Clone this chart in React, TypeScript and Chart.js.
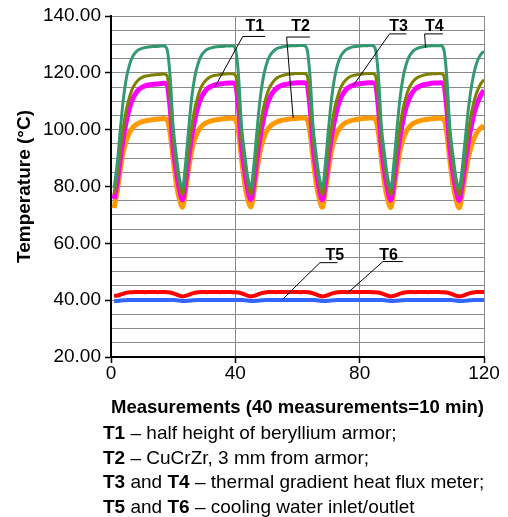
import React, { useEffect, useRef } from 'react';
import { Chart, registerables } from 'chart.js';

Chart.register(...registerables);
Chart.defaults.font.family = '"Liberation Sans", Arial, Helvetica, sans-serif';

// measurement index (x categories)
const measurements: number[] = Array.from({ length: 120 }, (_, i) => i + 1);

const yTickLabels = ['20.00', '40.00', '60.00', '80.00', '100.00', '120.00', '140.00'];
const xTickValues = [0, 40, 80, 120];

// T4 – thermal gradient heat flux meter (upper)
const t4: number[] = [
  79.5, 88, 100, 111, 118.5, 123, 125.8, 127.3, 128.2, 128.6, 128.9, 129.1, 129.2, 129.3, 129.3, 129.4, 129.4, 128.4, 119, 101, 91, 83,
  79.4, 88.2, 100.3, 111.5, 118.8, 123.2, 125.9, 127.4, 128.3, 128.7, 129.0, 129.2, 129.3, 129.3, 129.4, 129.4, 129.5, 128.5, 119.5, 101, 91.5, 83.2,
  79.6, 88, 100, 111, 118.4, 123, 125.8, 127.3, 128.3, 128.8, 129.1, 129.3, 129.4, 129.5, 129.5, 129.6, 129.6, 129.6, 128.6, 119.2, 101.3, 91.2, 83.3,
  79.5, 88.3, 100.5, 111.3, 118.7, 123.3, 126, 127.5, 128.4, 128.9, 129.2, 129.3, 129.4, 129.5, 129.5, 129.6, 129.6, 128.6, 119.3, 101, 91.3, 83.1,
  79.4, 88, 100.2, 111.2, 118.6, 123.1, 125.9, 127.4, 128.3, 128.8, 129.1, 129.3, 129.4, 129.5, 129.5, 129.5, 129.6, 128.5, 119, 100.8, 91, 83,
  79.3, 86.5, 97, 107.5, 115.5, 121, 124.5, 126.5, 127.6,
];

// T3 – thermal gradient heat flux meter (lower)
const t3: number[] = [
  77.2, 84, 93, 101, 107.4, 111.7, 114.7, 116.5, 117.7, 118.4, 118.8, 119.0, 119.2, 119.3, 119.4, 119.5, 119.6, 119.1, 111, 97, 88, 81,
  77.1, 84.2, 93.3, 101.3, 107.7, 111.9, 114.9, 116.7, 117.9, 118.6, 119.0, 119.2, 119.4, 119.5, 119.6, 119.7, 119.7, 119.2, 111.2, 97.2, 88.2, 81.1,
  77.2, 84, 93, 101, 107.4, 111.8, 114.8, 116.6, 117.9, 118.6, 119.0, 119.3, 119.5, 119.6, 119.7, 119.8, 119.8, 119.8, 119.3, 111.2, 97.3, 88.1, 81.2,
  77.1, 84.3, 93.4, 101.4, 107.8, 112, 115, 116.8, 118, 118.7, 119.1, 119.3, 119.5, 119.6, 119.7, 119.8, 119.8, 119.3, 111.1, 97, 88, 81,
  77, 84.1, 93.2, 101.2, 107.6, 111.9, 114.9, 116.7, 117.9, 118.6, 119.0, 119.3, 119.5, 119.6, 119.7, 119.7, 119.8, 119.2, 111, 96.8, 87.9, 80.9,
  76.9, 83.3, 91.8, 99.5, 106, 110.8, 114, 116.2, 117.6,
];

// T1 – half height of beryllium armor
const t1: number[] = [
  75.6, 81.5, 90, 97.5, 103.4, 107.9, 110.9, 112.9, 114.2, 114.9, 115.4, 115.7, 115.9, 116.0, 116.1, 116.2, 116.3, 115.9, 108, 94, 85.5, 79,
  75.3, 81.7, 90.3, 97.8, 103.7, 108.2, 111.2, 113.1, 114.4, 115.1, 115.6, 115.9, 116.1, 116.2, 116.3, 116.4, 116.4, 116, 108.2, 94.2, 85.6, 79.1,
  75.4, 81.5, 90, 97.5, 103.5, 108, 111, 113, 114.3, 115.1, 115.6, 115.9, 116.1, 116.3, 116.4, 116.5, 116.5, 116.5, 116.1, 108.3, 94.3, 85.6, 79.2,
  75.3, 81.8, 90.4, 97.9, 103.8, 108.3, 111.3, 113.2, 114.5, 115.2, 115.7, 116, 116.2, 116.3, 116.4, 116.5, 116.5, 116.1, 108.1, 94, 85.4, 79,
  75.2, 81.6, 90.2, 97.7, 103.6, 108.1, 111.1, 113.1, 114.4, 115.1, 115.6, 115.9, 116.1, 116.3, 116.4, 116.4, 116.5, 116, 108, 93.8, 85.3, 78.9,
  75.1, 80.8, 88.5, 95.8, 101.8, 106.5, 109.8, 112.2, 113.9,
];

// T2 – CuCrZr, 3 mm from armor
const t2: number[] = [
  72.4, 78.5, 86, 92.5, 96.5, 99.1, 100.7, 101.7, 102.3, 102.8, 103.1, 103.3, 103.5, 103.6, 103.7, 103.8, 103.9, 103.5, 99, 89.5, 81, 75.5,
  72.7, 78.7, 86.3, 92.8, 96.8, 99.4, 101, 102, 102.6, 103, 103.3, 103.5, 103.7, 103.8, 103.9, 104, 104, 103.6, 99.2, 89.7, 81.2, 75.6,
  72.8, 78.5, 86, 92.5, 96.6, 99.3, 100.9, 101.9, 102.5, 103, 103.3, 103.5, 103.7, 103.8, 103.9, 104, 104.1, 104.1, 103.7, 99.2, 89.8, 81.2, 75.7,
  72.7, 78.8, 86.4, 92.9, 96.9, 99.5, 101.1, 102.1, 102.7, 103.1, 103.4, 103.6, 103.8, 103.9, 104, 104.1, 104.1, 103.7, 99.1, 89.5, 81, 75.5,
  72.6, 78.6, 86.2, 92.7, 96.7, 99.4, 101, 102, 102.6, 103, 103.3, 103.5, 103.7, 103.8, 103.9, 104, 104, 103.6, 99, 89.3, 80.8, 75.4,
  72.5, 77.5, 84.2, 90.3, 94.5, 97.5, 99.4, 100.6, 101.4,
];

// T5 – cooling water outlet
const t5: number[] = [
  41.5, 41.6, 41.9, 42.3, 42.6, 42.8,
  42.8, 42.9, 42.9, 42.9, 42.8, 42.9, 42.9, 42.9, 42.8, 42.9, 42.9, 42.8,
  42.7, 42.4, 42.0, 41.6, 41.3, 41.5, 41.9, 42.3, 42.6, 42.8,
  42.9, 42.9, 42.8, 42.9, 42.9, 42.9, 42.8, 42.9, 42.9, 42.9, 42.8, 42.8,
  42.7, 42.4, 42.0, 41.6, 41.3, 41.5, 41.9, 42.3, 42.6, 42.8,
  42.9, 42.9, 42.8, 42.9, 42.9, 42.9, 42.8, 42.9, 42.9, 42.9, 42.8, 42.9, 42.8,
  42.7, 42.4, 42.0, 41.6, 41.3, 41.5, 41.9, 42.3, 42.6, 42.8,
  42.9, 42.9, 42.8, 42.9, 42.9, 42.9, 42.8, 42.9, 42.9, 42.9, 42.8, 42.8,
  42.7, 42.4, 42.0, 41.6, 41.3, 41.5, 41.9, 42.3, 42.6, 42.8,
  42.9, 42.9, 42.8, 42.9, 42.9, 42.9, 42.8, 42.9, 42.9, 42.9, 42.8, 42.8,
  42.7, 42.4, 42.0, 41.6, 41.3, 41.5, 41.9, 42.3, 42.6, 42.8,
  42.9, 42.9, 42.9,
];

// T6 – cooling water inlet
const t6: number[] = [
  39.75, 39.75, 39.85, 39.95,
  40.0, 40.05, 40.1, 40.1, 40.05, 40.1, 40.1, 40.1, 40.05, 40.1, 40.1, 40.1, 40.05, 40.1, 40.1, 40.05, 40.0,
  39.85, 39.7, 39.7, 39.8, 39.9,
  40.0, 40.05, 40.1, 40.1, 40.05, 40.1, 40.1, 40.1, 40.05, 40.1, 40.1, 40.1, 40.05, 40.1, 40.1, 40.05, 40.0,
  39.85, 39.7, 39.7, 39.8, 39.9,
  40.0, 40.05, 40.1, 40.1, 40.05, 40.1, 40.1, 40.1, 40.05, 40.1, 40.1, 40.1, 40.05, 40.1, 40.1, 40.1, 40.05, 40.0,
  39.85, 39.7, 39.7, 39.8, 39.9,
  40.0, 40.05, 40.1, 40.1, 40.05, 40.1, 40.1, 40.1, 40.05, 40.1, 40.1, 40.1, 40.05, 40.1, 40.1, 40.05, 40.0,
  39.85, 39.7, 39.7, 39.8, 39.9,
  40.0, 40.05, 40.1, 40.1, 40.05, 40.1, 40.1, 40.1, 40.05, 40.1, 40.1, 40.1, 40.05, 40.1, 40.1, 40.05, 40.0,
  39.85, 39.7, 39.7, 39.8, 39.9,
  40.0, 40.05, 40.1, 40.1, 40.1,
];

// callout labels, in data units: text centre x, text baseline y, underline x1..x2 at uy, leader to (px, py)
const callouts = [
  { label: 'T1', tx: 46.3, ty: 134.6, ux1: 42.4, ux2: 49.6, uy: 132.8, px: 33.4, py: 115.0 },
  { label: 'T2', tx: 61.0, ty: 134.6, ux1: 56.5, ux2: 64.0, uy: 132.6, px: 58.6, py: 104.1 },
  { label: 'T3', tx: 92.5, ty: 134.6, ux1: 89.6, ux2: 95.0, uy: 133.7, px: 77.9, py: 115.5 },
  { label: 'T4', tx: 104.0, ty: 134.6, ux1: 100.9, ux2: 106.8, uy: 133.7, px: 101.2, py: 128.8 },
  { label: 'T5', tx: 72.0, ty: 54.2, ux1: 67.2, ux2: 72.9, uy: 53.2, px: 55.2, py: 40.3 },
  { label: 'T6', tx: 89.3, ty: 54.2, ux1: 87.5, ux2: 93.9, uy: 53.6, px: 76.3, py: 42.7 },
];

const calloutPlugin = {
  id: 'callouts',
  afterDatasetsDraw(chart: any) {
    const { ctx, scales } = chart;
    const x = scales.x;
    const y = scales.y;
    ctx.save();
    ctx.strokeStyle = '#000';
    ctx.fillStyle = '#000';
    ctx.lineWidth = 1;
    ctx.font = 'bold 16px "Liberation Sans", Arial, sans-serif';
    ctx.textAlign = 'center';
    ctx.textBaseline = 'alphabetic';
    for (const c of callouts) {
      const ux1 = x.getPixelForValue(c.ux1);
      const ux2 = x.getPixelForValue(c.ux2);
      const uy = y.getPixelForValue(c.uy);
      ctx.beginPath();
      ctx.moveTo(ux1, uy);
      ctx.lineTo(ux2, uy);
      ctx.moveTo(ux1, uy);
      ctx.lineTo(x.getPixelForValue(c.px), y.getPixelForValue(c.py));
      ctx.stroke();
      ctx.fillText(c.label, x.getPixelForValue(c.tx), y.getPixelForValue(c.ty));
    }
    ctx.restore();
  },
};

const GRID = '#8a8a8a';

export default function App() {
  const ref = useRef<HTMLCanvasElement>(null);
  useEffect(() => {
    if (!ref.current) return;
    const line = (label: string, data: number[], color: string, width: number) => ({
      label,
      data,
      borderColor: color,
      backgroundColor: color,
      borderWidth: width,
      pointRadius: 0,
      fill: false,
      cubicInterpolationMode: 'monotone' as const,
    });
    const chart = new Chart(ref.current, {
      type: 'line',
      data: {
        labels: measurements,
        datasets: [
          line('T4', t4, '#339970', 3),
          line('T3', t3, '#808000', 3),
          line('T1', t1, '#ff00ff', 5),
          line('T2', t2, '#ff9900', 5),
          line('T5', t5, '#ff0000', 4),
          line('T6', t6, '#3366ff', 4),
        ],
      },
      options: {
        animation: false,
        responsive: false,
        layout: { padding: { left: 0, top: 16, right: 24, bottom: 98 } },
        plugins: { legend: { display: false }, tooltip: { enabled: false } },
        scales: {
          x: {
            type: 'linear',
            min: 0,
            max: 120,
            afterFit: (s: any) => { s.height = 62; },
            afterBuildTicks: (s: any) => { s.ticks = xTickValues.map((v) => ({ value: v })); },
            ticks: { color: '#000', font: { size: 19 }, padding: -1, maxRotation: 0 },
            grid: { color: GRID, lineWidth: 1, tickColor: '#000', tickLength: 6, tickWidth: 1.5 },
            border: { color: '#000', width: 2 },
            title: {
              display: true,
              text: 'Measurements (40 measurements=10 min)',
              color: '#000',
              font: { size: 19, weight: 'bold' },
              padding: { top: 0, bottom: 0 },
            },
          },
          y: {
            min: 20,
            max: 140,
            afterFit: (s: any) => { s.width = 111; },
            ticks: {
              stepSize: 5,
              autoSkip: false,
              color: '#000',
              font: { size: 19 },
              padding: 4,
              callback: (v: any) => {
                const n = Number(v);
                return n % 20 === 0 ? yTickLabels[(n - 20) / 20] : '';
              },
            },
            grid: {
              color: GRID,
              lineWidth: 1,
              tickLength: 6,
              tickWidth: 1.5,
              tickColor: (c: any) => (c.tick && c.tick.value % 20 === 0 ? '#000' : 'rgba(0,0,0,0)'),
            },
            border: { color: '#000', width: 2 },
            title: {
              display: true,
              text: 'Temperature (°C)',
              color: '#000',
              font: { size: 19, weight: 'bold' },
              padding: { top: 13, bottom: 0 },
            },
          },
        },
      },
      plugins: [calloutPlugin],
    } as any);
    return () => chart.destroy();
  }, []);

  return (
    <div style={{ position: 'fixed', left: 0, top: 0, width: 508, height: 517, background: '#fff' }}>
      <canvas ref={ref} width={508} height={517} style={{ display: 'block' }} />
      <div
        style={{
          position: 'absolute',
          left: 103,
          top: 421,
          font: '19px "Liberation Sans", Arial, sans-serif',
          lineHeight: '24.6px',
          color: '#000',
          whiteSpace: 'nowrap',
        }}
      >
        <div><b>T1</b> – half height of beryllium armor;</div>
        <div><b>T2</b> – CuCrZr, 3 mm from armor;</div>
        <div><b>T3</b> and <b>T4</b> – thermal gradient heat flux meter;</div>
        <div><b>T5</b> and <b>T6</b> – cooling water inlet/outlet</div>
      </div>
    </div>
  );
}
